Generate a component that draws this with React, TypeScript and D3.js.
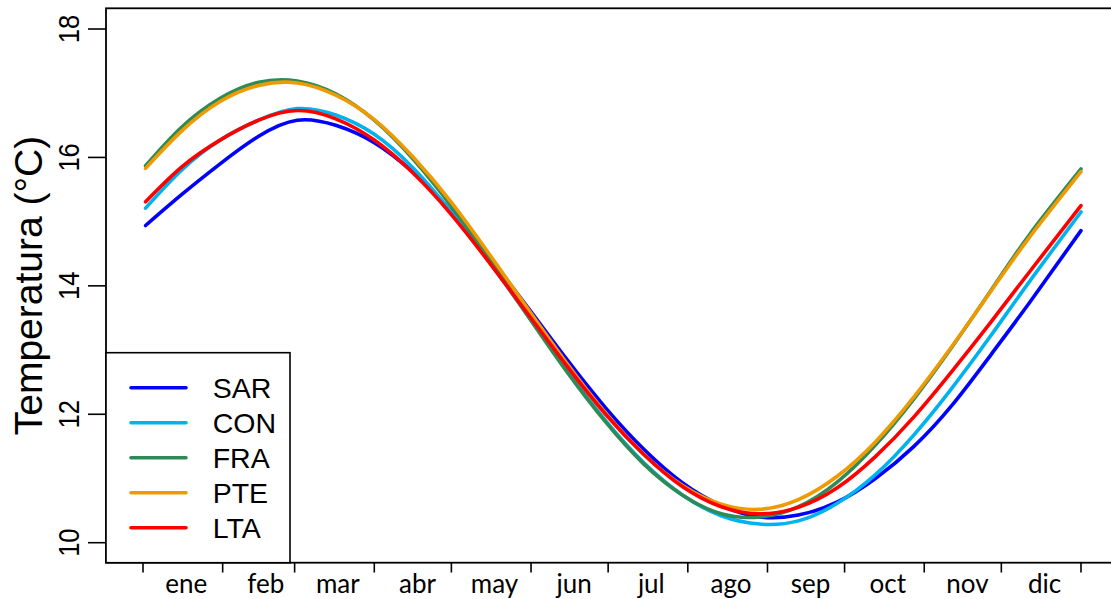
import React from "react";
import * as d3 from "d3";

// Day of year at which each series value is sampled
const days = [1, 15, 30, 45, 60, 75, 90, 105, 120, 135, 150, 165, 180, 195, 210, 225, 240, 255, 270, 285, 300, 315, 330, 345, 365];

// Mean daily temperature (°C) per station
const sar = [14.94, 15.42, 15.90, 16.33, 16.58, 16.50, 16.23, 15.77, 15.16, 14.43, 13.65, 12.85, 12.10, 11.45, 10.93, 10.58, 10.40, 10.43, 10.63, 11.00, 11.50, 12.15, 12.93, 13.74, 14.86];
const con = [15.21, 15.80, 16.27, 16.58, 16.76, 16.66, 16.36, 15.84, 15.15, 14.36, 13.52, 12.68, 11.90, 11.24, 10.74, 10.42, 10.29, 10.34, 10.61, 11.06, 11.68, 12.42, 13.23, 14.07, 15.15];
const fra = [15.87, 16.47, 16.92, 17.17, 17.19, 16.99, 16.58, 15.98, 15.24, 14.40, 13.52, 12.66, 11.88, 11.22, 10.74, 10.45, 10.40, 10.56, 10.94, 11.52, 12.24, 13.06, 13.93, 14.80, 15.82];
const pte = [15.83, 16.41, 16.87, 17.12, 17.16, 16.97, 16.59, 16.01, 15.30, 14.48, 13.63, 12.79, 12.02, 11.37, 10.89, 10.60, 10.52, 10.67, 11.03, 11.57, 12.27, 13.07, 13.92, 14.76, 15.78];
const lta = [15.31, 15.85, 16.27, 16.58, 16.73, 16.60, 16.27, 15.76, 15.11, 14.35, 13.55, 12.75, 12.00, 11.37, 10.87, 10.56, 10.45, 10.55, 10.85, 11.34, 11.96, 12.68, 13.44, 14.22, 15.25];

const seriesNames = ["SAR", "CON", "FRA", "PTE", "LTA"];
const seriesValues = [sar, con, fra, pte, lta];
const seriesColors = ["#0000FF", "#00B2EE", "#2E8B57", "#EE9A00", "#FF0000"];

// Month boundaries (day of year) and labels
const monthStarts = [0, 31, 59, 90, 120, 151, 181, 212, 243, 273, 304, 334, 365];
const monthLabels = ["ene", "feb", "mar", "abr", "may", "jun", "jul", "ago", "sep", "oct", "nov", "dic"];
const yTicks = [10, 12, 14, 16, 18];

const W = 1111;
const H = 599;
const box = { left: 106, top: 8.3, right: 1113, bottom: 562.7 };

const SANS = "'Liberation Sans', Arial, Helvetica, sans-serif";
const LABEL_FONT = "Lato, 'Open Sans', sans-serif";

export default function App() {
  const x = d3.scaleLinear().domain([0, 365]).range([143, 1081]);
  const y = d3.scaleLinear().domain([10, 18]).range([542.7, 29]);

  const line = d3
    .line<[number, number]>()
    .x((d) => x(d[0]))
    .y((d) => y(d[1]))
    .curve(d3.curveNatural);

  const legend = { left: box.left, top: 352.7, right: 290, bottom: box.bottom };
  const legendRow0 = 387.7;
  const legendStep = 35;

  return (
    <svg
      width={W}
      height={H}
      style={{ position: "absolute", left: 0, top: 0, background: "#fff" }}
      viewBox={`0 0 ${W} ${H}`}
    >
      <rect x={0} y={0} width={W} height={H} fill="#fff" />

      {/* temperature curves */}
      <g fill="none" strokeWidth={3.6} strokeLinecap="round" strokeLinejoin="round">
        {seriesValues.map((vals, i) => (
          <path
            key={seriesNames[i]}
            d={line(days.map((d, j) => [d, vals[j]]) as [number, number][]) || ""}
            stroke={seriesColors[i]}
          />
        ))}
      </g>

      {/* plot frame */}
      <rect
        x={box.left}
        y={box.top}
        width={box.right - box.left}
        height={box.bottom - box.top}
        fill="none"
        stroke="#000"
        strokeWidth={1.8}
      />

      {/* y axis */}
      <g>
        {yTicks.map((t) => (
          <g key={t}>
            <line x1={88} x2={box.left} y1={y(t)} y2={y(t)} stroke="#000" strokeWidth={1.6} />
            <text
              transform={`translate(79,${y(t)}) rotate(-90) scale(1,1.18)`}
              textAnchor="middle"
              fontFamily={SANS}
              fontSize={25.5}
              fill="#000"
            >
              {t}
            </text>
          </g>
        ))}
        <text
          transform={`translate(42,${(box.top + box.bottom) / 2}) rotate(-90)`}
          textAnchor="middle"
          fontFamily={SANS}
          fontSize={39}
          fill="#000"
        >
          Temperatura (°C)
        </text>
      </g>

      {/* x axis */}
      <g>
        {monthStarts.map((m) => (
          <line key={m} x1={x(m)} x2={x(m)} y1={box.bottom} y2={572.5} stroke="#000" strokeWidth={1.6} />
        ))}
        {monthLabels.map((lab, i) => (
          <text
            key={lab}
            x={x(monthStarts[i] + 16.8)}
            y={592.7}
            textAnchor="middle"
            fontFamily={LABEL_FONT}
            fontSize={26}
            fill="#000"
          >
            {lab}
          </text>
        ))}
      </g>

      {/* legend */}
      <g>
        <rect
          x={legend.left}
          y={legend.top}
          width={legend.right - legend.left}
          height={legend.bottom - legend.top}
          fill="#fff"
          stroke="#000"
          strokeWidth={1.6}
        />
        {seriesNames.map((name, i) => {
          const ly = legendRow0 + i * legendStep;
          return (
            <g key={name}>
              <line x1={131} x2={186} y1={ly} y2={ly} stroke={seriesColors[i]} strokeWidth={3.6} strokeLinecap="round" />
              <text x={212.7} y={ly + 10.4} fontFamily={SANS} fontSize={28.5} fill="#000">
                {name}
              </text>
            </g>
          );
        })}
      </g>
    </svg>
  );
}
